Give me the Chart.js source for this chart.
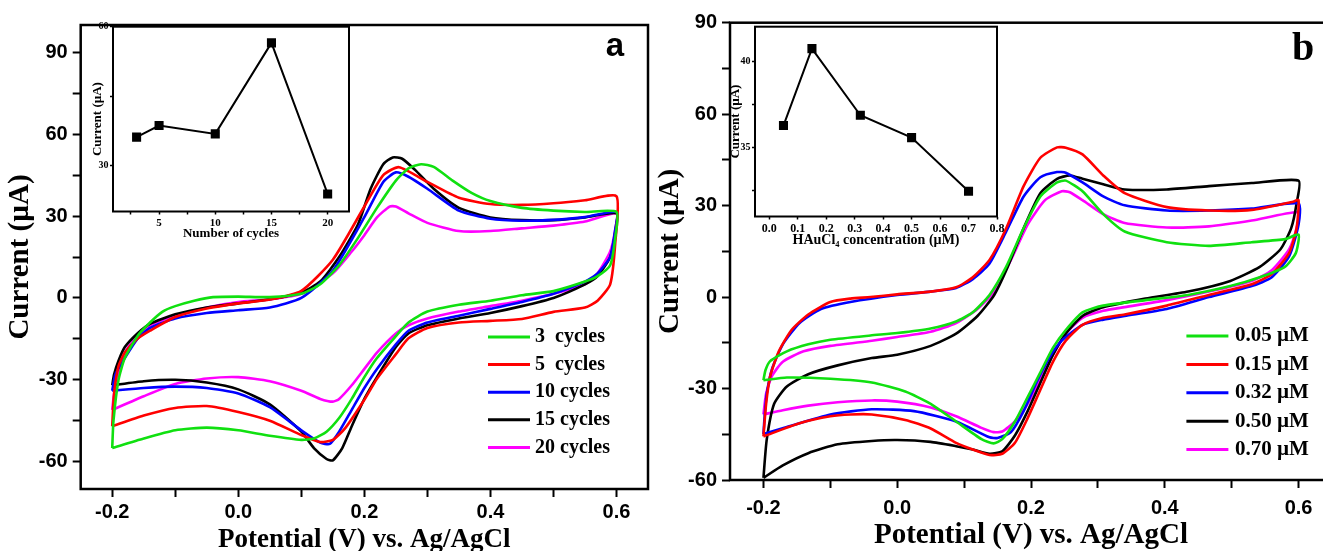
<!DOCTYPE html>
<html>
<head>
<meta charset="utf-8">
<script src="https://cdn.jsdelivr.net/npm/chart.js@4.4.1/dist/chart.umd.min.js"></script>
<style>
  html, body { margin: 0; padding: 0; background: #fff; overflow: hidden; width: 1323px; height: 551px; }
  canvas { position: absolute; }
</style>
</head>
<body>
<canvas id="mainA" style="left:0;top:0" width="660" height="565"></canvas>
<canvas id="mainB" style="left:650px;top:0" width="690" height="565"></canvas>
<canvas id="insetA" style="left:85px;top:10px" width="275" height="240"></canvas>
<canvas id="insetB" style="left:725px;top:10px" width="285" height="250"></canvas>
<script>
// --- データ ---

// 電位軸の目盛り
const potTicks = [-0.2, -0.1, 0, 0.1, 0.2, 0.3, 0.4, 0.5, 0.6];
const potTickLabels = ['-0.2', '', '0.0', '', '0.2', '', '0.4', '', '0.6'];
const curTicks = [-60, -45, -30, -15, 0, 15, 30, 45, 60, 75, 90];
const curTickLabels = ['-60', '', '-30', '', '0', '', '30', '', '60', '', '90'];

// (a) 電析サイクル数ごとのCV [E, I]
const cvLabelsA = ['3  cycles', '5  cycles', '10 cycles', '15 cycles', '20 cycles'];
const cv3 = [[-0.2,-55],[-0.198,-45],[-0.19,-30],[-0.18,-22],[-0.16,-14],[-0.14,-9],[-0.12,-5],[-0.1,-3],[-0.07,-1],[-0.04,0.3],[0,0.5],[0.05,0.3],[0.1,1.5],[0.13,5],[0.16,12],[0.19,22],[0.22,33],[0.25,43],[0.27,47.5],[0.29,49],[0.31,48],[0.34,43],[0.37,38.5],[0.4,35.5],[0.45,33],[0.5,32],[0.55,31.5],[0.6,31.5],
  [0.598,22],[0.59,12],[0.57,8],[0.55,6],[0.5,2.5],[0.45,1],[0.4,-1],[0.35,-2.5],[0.3,-5],[0.27,-9],[0.25,-14],[0.22,-22],[0.2,-29],[0.18,-37],[0.16,-44],[0.14,-49],[0.12,-51.5],[0.1,-52],[0.05,-50.5],[0,-48.5],[-0.05,-47.5],[-0.1,-48.5],[-0.15,-51.5],[-0.2,-55]];
const cv5 = [[-0.2,-47],[-0.197,-35],[-0.19,-25],[-0.18,-20],[-0.16,-15],[-0.14,-12],[-0.1,-7],[-0.05,-3.9],[0,-2],[0.05,-0.6],[0.1,2.6],[0.15,14],[0.2,33.5],[0.23,45],[0.255,47.9],[0.3,42.5],[0.35,36.7],[0.4,34.4],[0.45,34.1],[0.5,34.7],[0.55,35.8],[0.6,37.3],
  [0.598,20],[0.59,5],[0.57,-1],[0.55,-3.5],[0.5,-5.1],[0.45,-7.7],[0.4,-8.4],[0.35,-9],[0.3,-11],[0.27,-14.8],[0.25,-20.6],[0.22,-29.6],[0.2,-37.3],[0.17,-47.6],[0.15,-52],[0.13,-52.8],[0.1,-50.2],[0.05,-45],[0,-41.8],[-0.05,-39.6],[-0.1,-40.3],[-0.15,-43.1],[-0.2,-47]];
const cv10 = [[-0.2,-34],[-0.195,-28],[-0.18,-22],[-0.16,-15],[-0.14,-11],[-0.1,-7.5],[-0.05,-5.5],[0,-4.5],[0.05,-3.5],[0.1,0],[0.15,10],[0.2,29.6],[0.23,42.5],[0.25,46],[0.27,44.4],[0.3,40],[0.35,32],[0.4,29],[0.45,28.3],[0.5,28.6],[0.55,29.6],[0.6,31.5],
  [0.598,25],[0.59,15],[0.57,9],[0.55,6],[0.5,1.5],[0.45,-1.5],[0.4,-4],[0.35,-6.5],[0.3,-9],[0.27,-12],[0.25,-17],[0.22,-26],[0.2,-33],[0.18,-41],[0.16,-49],[0.145,-53.5],[0.13,-53],[0.1,-48.5],[0.05,-40],[0,-35],[-0.05,-33],[-0.1,-32.5],[-0.15,-33],[-0.2,-34]];
const cv15 = [[-0.2,-32],[-0.197,-28],[-0.19,-23],[-0.18,-18],[-0.16,-13],[-0.14,-9.5],[-0.1,-6],[-0.05,-3.5],[0,-2],[0.05,-0.5],[0.1,2],[0.13,6],[0.16,15],[0.19,27],[0.21,40],[0.23,49],[0.245,51.5],[0.26,51],[0.28,47],[0.31,40],[0.35,33],[0.4,29.5],[0.45,28.5],[0.5,28.5],[0.55,29.5],[0.6,31],
  [0.598,24],[0.59,15],[0.57,8],[0.55,5],[0.5,0],[0.45,-3],[0.4,-5.5],[0.35,-7.5],[0.3,-10],[0.27,-13],[0.25,-18],[0.22,-29],[0.2,-37],[0.18,-47],[0.165,-55],[0.15,-59.5],[0.14,-59],[0.12,-55],[0.1,-49],[0.05,-39],[0,-33.5],[-0.05,-31],[-0.1,-30],[-0.15,-30.5],[-0.2,-32]];
const cv20 = [[-0.2,-41],[-0.197,-35],[-0.19,-27],[-0.18,-20],[-0.16,-14],[-0.14,-10],[-0.1,-6.5],[-0.05,-3.5],[0,-1.5],[0.05,-0.5],[0.1,1.5],[0.15,9],[0.18,17],[0.2,23],[0.22,29.5],[0.24,33.5],[0.25,33.5],[0.27,31],[0.3,27.5],[0.35,24.5],[0.4,24.5],[0.45,25.5],[0.5,26.5],[0.55,28],[0.6,31],
  [0.598,25],[0.59,17],[0.57,9],[0.55,5],[0.5,1.5],[0.45,-1],[0.4,-3],[0.35,-5],[0.3,-7.5],[0.27,-10],[0.25,-13],[0.22,-20],[0.2,-26],[0.18,-32],[0.16,-37],[0.15,-38],[0.13,-37],[0.1,-34],[0.05,-30.5],[0,-29],[-0.05,-29.5],[-0.1,-31.5],[-0.15,-36],[-0.2,-41]];

// (b) HAuCl4濃度ごとのCV [E, I]
const cvLabelsB = ['0.05 \u00b5M', '0.15 \u00b5M', '0.32 \u00b5M', '0.50 \u00b5M', '0.70 \u00b5M'];
const cv005 = [[-0.2,-27.3],[-0.197,-24],[-0.19,-21],[-0.165,-17.8],[-0.133,-15.5],[-0.1,-14],[-0.04,-12.6],[0,-11.8],[0.05,-10.3],[0.088,-8],[0.113,-5],[0.138,0.7],[0.163,10],[0.189,22.6],[0.214,33],[0.239,37.6],[0.252,38.2],[0.277,34.7],[0.308,27.2],[0.34,21.5],[0.403,18],[0.466,16.8],[0.53,18],[0.58,19],[0.6,20.5],
  [0.596,14.5],[0.58,10],[0.542,6.5],[0.498,3.6],[0.435,0.7],[0.371,-1],[0.308,-2.8],[0.277,-5],[0.252,-10.8],[0.233,-16.6],[0.214,-24.7],[0.195,-32.8],[0.176,-40.8],[0.157,-46.6],[0.144,-48],[0.126,-46.6],[0.088,-40.8],[0.05,-35],[0.012,-31],[-0.038,-28],[-0.1,-26.8],[-0.165,-26.4],[-0.2,-27.3]];
const cv015 = [[-0.2,-45.7],[-0.196,-35],[-0.19,-26],[-0.177,-17.8],[-0.158,-10.8],[-0.133,-5.7],[-0.1,-1.6],[-0.07,-0.5],[-0.04,0],[0,0.9],[0.05,1.8],[0.088,3.2],[0.113,6.5],[0.138,12.2],[0.163,22.6],[0.189,36.4],[0.214,45.7],[0.239,49.1],[0.252,49],[0.277,46.8],[0.308,39.9],[0.34,34.1],[0.403,29.5],[0.466,28.4],[0.53,28.6],[0.592,31.3],[0.6,31.8],
  [0.597,22.6],[0.586,14.5],[0.56,7.6],[0.53,4.2],[0.466,0.7],[0.403,-2.8],[0.34,-5.7],[0.308,-6.8],[0.277,-9.1],[0.252,-14.3],[0.233,-21.2],[0.214,-30.4],[0.195,-39.7],[0.176,-47.8],[0.157,-51.4],[0.138,-51.8],[0.113,-50],[0.088,-47.8],[0.05,-43.1],[0.012,-40.3],[-0.038,-38.5],[-0.07,-38.5],[-0.1,-39.1],[-0.146,-41.4],[-0.2,-45.7]];
const cv032 = [[-0.2,-44.9],[-0.198,-38.5],[-0.195,-31.6],[-0.187,-23.5],[-0.171,-15.5],[-0.146,-8.5],[-0.114,-3.9],[-0.07,-1.6],[0,0.7],[0.05,1.8],[0.088,3],[0.113,5.9],[0.138,11],[0.163,21.5],[0.189,33],[0.214,39.3],[0.239,41],[0.252,40.8],[0.277,37.6],[0.308,33],[0.34,30.1],[0.403,28.4],[0.466,28.4],[0.53,29],[0.6,30.7],
  [0.6,23.8],[0.586,13.4],[0.56,6.5],[0.53,3.6],[0.466,0],[0.403,-3.9],[0.34,-6.2],[0.308,-7.4],[0.277,-9.1],[0.246,-14.3],[0.227,-20],[0.208,-28.1],[0.189,-37.4],[0.17,-44.3],[0.15,-46.2],[0.138,-46],[0.088,-40.8],[0.025,-37.4],[-0.038,-36.8],[-0.1,-38.5],[-0.165,-42.6],[-0.2,-44.9]];
const cv050 = [[-0.2,-59.3],[-0.195,-46.6],[-0.184,-35],[-0.165,-29.3],[-0.133,-25.3],[-0.089,-22.4],[-0.038,-20],[0,-18.9],[0.05,-16],[0.088,-12],[0.12,-6.2],[0.145,0.7],[0.163,8.8],[0.189,22.6],[0.214,34.1],[0.239,38.8],[0.258,39.9],[0.277,38.8],[0.308,37],[0.34,35.3],[0.403,35.3],[0.466,36.4],[0.53,37.4],[0.6,38.2],
  [0.597,30.7],[0.589,22.6],[0.573,15.7],[0.542,9.9],[0.498,5.3],[0.435,1.8],[0.371,-0.5],[0.308,-3.3],[0.277,-6.2],[0.252,-12],[0.233,-18.9],[0.214,-28.1],[0.195,-37.4],[0.176,-45.4],[0.157,-50.6],[0.138,-51.4],[0.113,-50],[0.088,-48.9],[0.05,-47.5],[0,-46.9],[-0.038,-47.2],[-0.089,-48.3],[-0.133,-51.2],[-0.171,-55.2],[-0.2,-59.3]];
const cv070 = [[-0.2,-38.5],[-0.196,-31.6],[-0.187,-25.8],[-0.171,-21.2],[-0.14,-17.8],[-0.1,-16],[-0.038,-14.3],[0,-13.1],[0.05,-11.4],[0.088,-8.5],[0.12,-3.9],[0.145,1.8],[0.17,12.2],[0.195,23.8],[0.221,31.8],[0.246,34.7],[0.258,34.4],[0.277,31.8],[0.308,27.2],[0.34,24.3],[0.403,22.8],[0.466,23.2],[0.53,25.1],[0.6,27.8],
  [0.597,22.6],[0.586,15.7],[0.56,8.8],[0.53,5.3],[0.466,1.8],[0.403,-1],[0.34,-3.3],[0.308,-4.5],[0.277,-6.8],[0.252,-12],[0.233,-18.9],[0.214,-27],[0.195,-35],[0.176,-40.8],[0.157,-44.1],[0.144,-44.3],[0.126,-42.9],[0.088,-39.1],[0.05,-36.2],[0,-34.3],[-0.038,-33.9],[-0.089,-34.5],[-0.133,-35.6],[-0.171,-37.1],[-0.2,-38.5]];

const cvColors = ['#10e010', '#ff0000', '#0000ff', '#000000', '#ff00ff'];

// インセット: ピーク電流
const cycleCounts = [3, 5, 10, 15, 20];
const peakCurrentA = [36.1, 38.6, 36.8, 56.5, 23.8];
const cycleTicks = [2.5, 5, 7.5, 10, 12.5, 15, 17.5, 20];
const cycleTickLabels = ['', '5', '', '10', '', '15', '', '20'];
const insetATicksY = [30, 45, 60];
const insetATickLabelsY = ['30', '', '60'];

const haucl4Conc = [0.05, 0.15, 0.32, 0.5, 0.7];
const peakCurrentB = [36.27, 40.73, 36.87, 35.57, 32.46];
const concTicks = [0, 0.1, 0.2, 0.3, 0.4, 0.5, 0.6, 0.7, 0.8];
const concTickLabels = ['0.0', '0.1', '0.2', '0.3', '0.4', '0.5', '0.6', '0.7', '0.8'];
const insetBTicksY = [32.5, 35, 37.5, 40];
const insetBTickLabelsY = ['', '35', '', '40'];

// --- 描画 ---
const SERIF = "'Liberation Serif', 'Times New Roman', serif";
const SANS = "'Liberation Sans', Arial, sans-serif";

const toXY = pts => pts.map(p => ({ x: p[0], y: p[1] }));

// 枠線・凡例・パネル記号
const framePlugin = {
    id: 'frame',
    beforeDatasetsDraw(chart, args, opts) {
        if (!opts.fill) return;
        const { ctx, chartArea: a } = chart;
        ctx.save();
        ctx.fillStyle = '#fff';
        ctx.fillRect(a.left, a.top, a.right - a.left, a.bottom - a.top);
        ctx.restore();
    },
    afterDraw(chart, args, opts) {
        const { ctx, chartArea: a } = chart;
        ctx.save();
        ctx.strokeStyle = '#000';
        ctx.lineWidth = opts.width || 2;
        ctx.strokeRect(a.left, a.top, a.right - a.left, a.bottom - a.top);
        if (opts.legend) {
            const lg = opts.legend;
            ctx.font = lg.font;
            ctx.textBaseline = 'middle';
            ctx.textAlign = 'left';
            chart.data.datasets.forEach((ds, i) => {
                const y = lg.y + i * lg.gap;
                ctx.strokeStyle = ds.borderColor;
                ctx.lineWidth = 3;
                ctx.beginPath();
                ctx.moveTo(lg.x, y);
                ctx.lineTo(lg.x + lg.len, y);
                ctx.stroke();
                ctx.fillStyle = '#000';
                ctx.fillText(ds.label, lg.x + lg.len + lg.space, y);
            });
        }
        if (opts.tag) {
            ctx.font = opts.tag.font;
            ctx.fillStyle = '#000';
            ctx.textAlign = 'center';
            ctx.textBaseline = 'alphabetic';
            ctx.fillText(opts.tag.text, opts.tag.x, opts.tag.y);
        }
        ctx.restore();
    }
};

function cvDatasets(series, labels) {
    return series.map((pts, i) => ({
        label: labels[i],
        data: toXY(pts),
        borderColor: cvColors[i],
        borderWidth: 2.6,
        pointRadius: 0,
        showLine: true,
        fill: false,
        tension: 0.2
    }));
}

function axis(opts) {
    return {
        type: 'linear',
        min: opts.min,
        max: opts.max,
        afterBuildTicks: s => { s.ticks = opts.ticks.map(v => ({ value: v })); },
        afterFit: s => { if (opts.width) s.width = opts.width; if (opts.height) s.height = opts.height; },
        ticks: {
            autoSkip: false,
            maxRotation: 0,
            padding: opts.pad,
            color: '#000',
            font: opts.tickFont,
            callback: (v, i) => opts.labels[i]
        },
        grid: { drawOnChartArea: false, tickLength: opts.tickLen, tickWidth: opts.tickW, tickColor: '#000' },
        border: { display: false },
        title: {
            display: true,
            text: opts.title,
            color: '#000',
            font: opts.titleFont,
            padding: opts.titlePad
        }
    };
}

function mainChart(id, series, labels, o) {
    return new Chart(document.getElementById(id), {
        type: 'scatter',
        data: { datasets: cvDatasets(series, labels) },
        options: {
            responsive: false,
            animation: false,
            layout: { padding: o.padding },
            plugins: {
                legend: { display: false },
                tooltip: { enabled: false },
                frame: { width: 2.5, legend: o.legend, tag: o.tag }
            },
            scales: {
                x: axis({
                    min: -0.25, max: 0.65, ticks: potTicks, labels: potTickLabels, height: o.xHeight,
                    pad: o.xPad, tickLen: 8, tickW: 2,
                    tickFont: { family: SANS, weight: 'bold', size: 20 },
                    title: 'Potential (V) vs. Ag/AgCl',
                    titleFont: { family: SERIF, weight: 'bold', size: o.xTitleSize },
                    titlePad: { top: 0, bottom: o.xTitlePad }
                }),
                y: axis({
                    min: o.yMin, max: o.yMax, ticks: curTicks, labels: curTickLabels, width: o.yWidth,
                    pad: 5, tickLen: 8, tickW: 2,
                    tickFont: { family: SANS, weight: 'bold', size: 20 },
                    title: 'Current (\u00b5A)',
                    titleFont: { family: SERIF, weight: 'bold', size: 29 },
                    titlePad: { top: o.yTitlePad, bottom: 0 }
                })
            }
        },
        plugins: [framePlugin]
    });
}

function insetChart(id, xs, ys, o) {
    return new Chart(document.getElementById(id), {
        type: 'scatter',
        data: {
            datasets: [{
                data: xs.map((x, i) => ({ x: x, y: ys[i] })),
                borderColor: '#000',
                backgroundColor: '#000',
                borderWidth: 2,
                showLine: true,
                pointStyle: 'rect',
                pointRadius: 5,
                tension: 0
            }]
        },
        options: {
            responsive: false,
            animation: false,
            layout: { padding: o.padding },
            plugins: {
                legend: { display: false },
                tooltip: { enabled: false },
                frame: { width: 2, fill: true }
            },
            scales: {
                x: axis({
                    min: o.xMin, max: o.xMax, ticks: o.xTicks, labels: o.xLabels, height: o.xHeight,
                    pad: o.xPad, tickLen: 3, tickW: 1.5,
                    tickFont: { family: SERIF, weight: 'bold', size: o.xTickSize },
                    title: o.xTitle,
                    titleFont: { family: SERIF, weight: 'bold', size: o.xTitleSize },
                    titlePad: { top: 0, bottom: o.xTitlePad }
                }),
                y: axis({
                    min: o.yMin, max: o.yMax, ticks: o.yTicks, labels: o.yLabels, width: o.yWidth,
                    pad: 1.5, tickLen: 3, tickW: 1.5,
                    tickFont: { family: SERIF, weight: 'bold', size: 10 },
                    title: 'Current (\u00b5A)',
                    titleFont: { family: SERIF, weight: 'bold', size: 13 },
                    titlePad: { top: o.yTitlePad, bottom: 0 }
                })
            }
        },
        plugins: [framePlugin]
    });
}

mainChart('mainA', [cv3, cv5, cv10, cv15, cv20], cvLabelsA, {
    padding: { left: 0, top: 25, right: 12, bottom: 0 },
    yMin: -70, yMax: 100, yWidth: 80.7, xHeight: 76, xPad: 3,
    xTitleSize: 27, xTitlePad: 8.8, yTitlePad: 3.6,
    legend: { x: 488, y: 337, gap: 27.6, len: 42, space: 5, font: 'bold 20px ' + SERIF },
    tag: { text: 'a', x: 615, y: 56, font: 'bold 33px ' + SANS }
});

mainChart('mainB', [cv005, cv015, cv032, cv050, cv070], cvLabelsB, {
    padding: { left: 0, top: 22.7, right: 8, bottom: 0 },
    yMin: -60, yMax: 90, yWidth: 80, xHeight: 85, xPad: 8,
    xTitleSize: 29, xTitlePad: 11.6, yTitlePad: 3.2,
    legend: { x: 536.4, y: 336, gap: 28.4, len: 42, space: 6.6, font: 'bold 21px ' + SERIF },
    tag: { text: 'b', x: 653, y: 60, font: 'bold 40px ' + SERIF }
});

insetChart('insetA', cycleCounts, peakCurrentA, {
    padding: { left: 0, top: 16.7, right: 11, bottom: 0 },
    xMin: 0.9, xMax: 21.9, xTicks: cycleTicks, xLabels: cycleTickLabels, xHeight: 38.5, xPad: 2.5, xTickSize: 11,
    xTitle: 'Number of cycles', xTitleSize: 13, xTitlePad: 8.7,
    yMin: 20, yMax: 60, yTicks: insetATicksY, yLabels: insetATickLabelsY, yWidth: 28, yTitlePad: 4.7
});

insetChart('insetB', haucl4Conc, peakCurrentB, {
    padding: { left: 0, top: 16.7, right: 13, bottom: 0 },
    xMin: -0.05, xMax: 0.8, xTicks: concTicks, xLabels: concTickLabels, xHeight: 43.5, xPad: 2, xTickSize: 12,
    xTitle: 'HAuCl\u2084 concentration (\u00b5M)', xTitleSize: 14, xTitlePad: 11.2,
    yMin: 31, yMax: 42, yTicks: insetBTicksY, yLabels: insetBTickLabelsY, yWidth: 30, yTitlePad: 3.2
});
</script>
</body>
</html>
